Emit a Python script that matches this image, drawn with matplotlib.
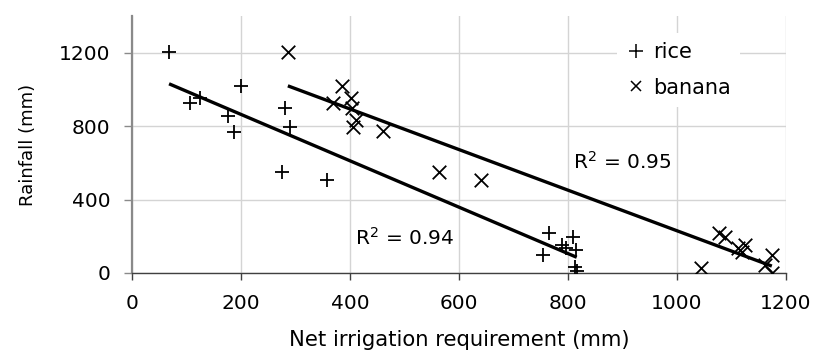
# -*- coding: utf-8 -*-
"""Rainfall vs net irrigation requirement, rice and banana, with linear fits."""

import matplotlib
matplotlib.use("Agg")
import matplotlib.pyplot as plt
import numpy as np
from matplotlib.lines import Line2D


plt.rcParams.update({
    "font.family": ["DejaVu Sans"],
    "mathtext.fontset": "dejavusans",
    "font.size": 14,
    "xtick.labelsize": 14.5,
    "ytick.labelsize": 14.5,
})

# rice (+)
RICE_X = [68, 106, 125, 176, 187, 200, 275, 281, 290, 357,
          754, 765, 789, 796, 809, 815, 813, 816]
RICE_Y = [1205, 927, 955, 857, 769, 1020, 551, 900, 797, 507,
          98, 218, 153, 136, 196, 125, 33, 11]

# banana (x)
BANANA_X = [286, 368, 385, 401, 404, 411, 406, 460, 563, 640,
            1044, 1077, 1088, 1112, 1125, 1119, 1174, 1161, 1174]
BANANA_Y = [1205, 928, 1020, 955, 900, 835, 797, 775, 551, 507,
            27, 218, 196, 136, 153, 115, 98, 44, 0]

SERIES = ["rice", "banana"]
R2_LABELS = ["R$^2$ = 0.94", "R$^2$ = 0.95"]
R2_POS = [(409, 191), (809, 605)]

XTICKS = [0, 200, 400, 600, 800, 1000, 1200]
YTICKS = [0, 400, 800, 1200]


def _fit_line(ax, xs, ys):
    xs = np.asarray(xs, dtype=float)
    ys = np.asarray(ys, dtype=float)
    k, b = np.polyfit(xs, ys, 1)
    xx = np.array([xs.min(), xs.max()])
    ax.plot(xx, k * xx + b, color="black", linewidth=2.4, zorder=2,
            solid_capstyle="butt")


def main():
    fig = plt.figure(figsize=(8.14, 3.51), dpi=100)
    ax = fig.add_axes([132 / 814, 1 - 273 / 351, 654 / 814, 257 / 351])

    ax.scatter(RICE_X, RICE_Y, marker="+", s=90, color="black",
               linewidths=1.3, zorder=3)
    ax.scatter(BANANA_X, BANANA_Y, marker="x", s=95, color="black",
               linewidths=1.3, zorder=3)

    _fit_line(ax, RICE_X, RICE_Y)
    _fit_line(ax, BANANA_X, BANANA_Y)

    for txt, (x, y) in zip(R2_LABELS, R2_POS):
        ax.text(x, y, txt, ha="left", va="center", fontsize=14.5, zorder=4)

    ax.set_xlim(0, 1200)
    ax.set_ylim(0, 1400)
    ax.set_xticks(XTICKS)
    ax.set_yticks(YTICKS)
    ax.grid(True, color="#d4d4d4", linewidth=1.0)
    ax.set_axisbelow(True)

    ax.spines["top"].set_visible(False)
    ax.spines["right"].set_visible(False)
    ax.spines["left"].set_color("#8a8a8a")
    ax.spines["left"].set_linewidth(1.6)
    ax.spines["bottom"].set_color("#404040")
    ax.spines["bottom"].set_linewidth(1.0)
    ax.tick_params(axis="x", direction="out", length=5, width=1.0,
                   color="#404040", pad=10)
    ax.tick_params(axis="y", direction="out", length=5.5, width=1.0,
                   color="#8a8a8a", pad=10)

    ax.set_xlabel("Net irrigation requirement (mm)", fontsize=15.2)
    ax.set_ylabel("Rainfall (mm)", fontsize=13)
    ax.xaxis.set_label_coords(0.5, -0.222)
    ax.yaxis.set_label_coords(-0.145, 0.5)

    handles = [
        Line2D([], [], linestyle="none", marker="+", markersize=10,
               markeredgewidth=1.1, color="black"),
        Line2D([], [], linestyle="none", marker="x", markersize=7.5,
               markeredgewidth=1.1, color="black"),
    ]
    leg = ax.legend(
        handles,
        SERIES,
        loc="upper left",
        bbox_to_anchor=(0.742, 0.935),
        frameon=True,
        facecolor="white",
        edgecolor="none",
        framealpha=1.0,
        fancybox=False,
        numpoints=1,
        handlelength=0.9,
        handletextpad=0.35,
        borderpad=0.45,
        labelspacing=0.75,
        borderaxespad=0.0,
        fontsize=15,
    )
    leg.set_zorder(5)

    fig.savefig("out.png", dpi=100)
    plt.close(fig)


if __name__ == "__main__":
    main()
